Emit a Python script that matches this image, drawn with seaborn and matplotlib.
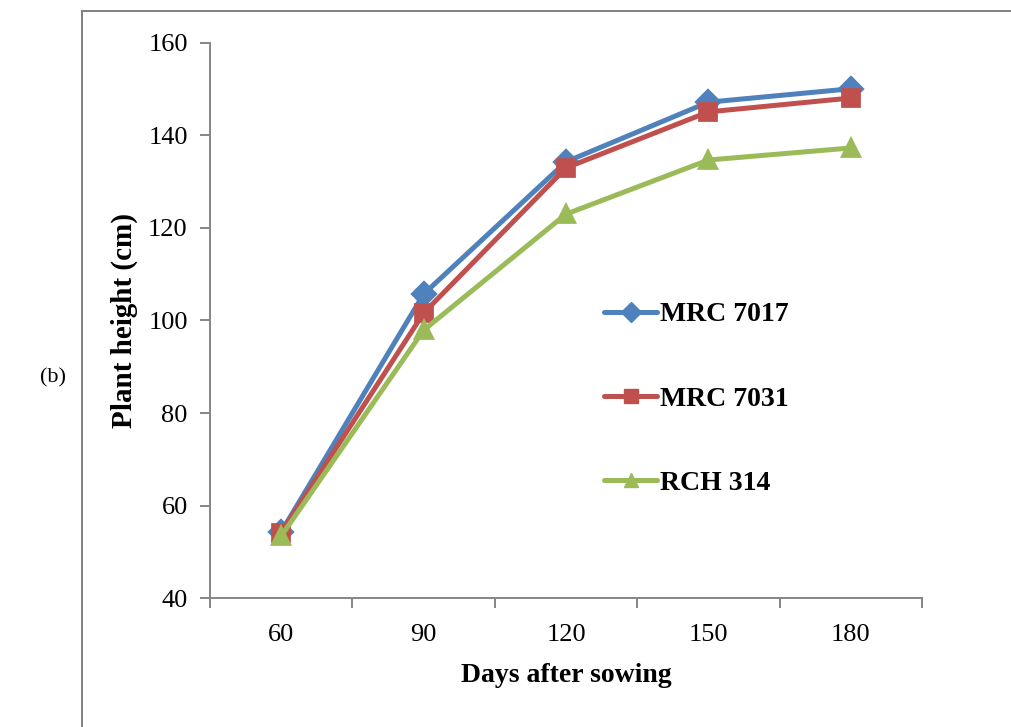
import pandas as pd
import numpy as np
import matplotlib
matplotlib.use('Agg')
import matplotlib.pyplot as plt
import seaborn as sns
from matplotlib.patches import Rectangle
from matplotlib.lines import Line2D

# values
days = [60, 90, 120, 150, 180]
mrc_7017 = [54.3, 105.7, 134.3, 147.2, 150.1]
mrc_7031 = [54.1, 101.6, 133.0, 145.1, 148.1]
rch_314 = [53.4, 97.9, 123.0, 134.7, 137.3]
varieties = ['MRC 7017', 'MRC 7031', 'RCH 314']
colors = ['#4F81BD', '#C0504D', '#9BBB59']
markers = ['D', 's', '^']

df = pd.DataFrame({
    'day': [str(d) for d in days] * 3,
    'height': mrc_7017 + mrc_7031 + rch_314,
    'variety': np.repeat(varieties, len(days)),
})

sns.set_style('white')
plt.rcParams['font.family'] = ['Liberation Serif', 'DejaVu Serif']
plt.rcParams['text.color'] = 'black'
plt.rcParams['xtick.color'] = 'black'
plt.rcParams['ytick.color'] = 'black'
plt.rcParams['axes.labelcolor'] = 'black'

fig = plt.figure(figsize=(10.11, 7.27), dpi=100)
ax = fig.add_axes([0.2077, 0.1774, 0.7043, 0.7635])

sns.pointplot(data=df, x='day', y='height', hue='variety', palette=colors,
              markers=markers, linestyles='-', markersize=11.5, linewidth=3.6,
              order=[str(d) for d in days], hue_order=varieties, ax=ax)

ax.set_ylim(40, 160)
ax.set_yticks(range(40, 161, 20))
ax.set_xlim(-0.5, len(days) - 0.5)

grey = '#868686'
for s in ['top', 'right']:
    ax.spines[s].set_visible(False)
for s in ['left', 'bottom']:
    ax.spines[s].set_color(grey)
    ax.spines[s].set_linewidth(1.4)

ax.tick_params(axis='y', which='major', direction='out', length=7, width=1.4,
               color=grey, labelsize=19, pad=9, left=True, labelcolor='black')
ax.tick_params(axis='x', which='major', length=0, labelsize=19, pad=19,
               labelcolor='black')
ax.set_xticks(np.arange(-0.5, len(days), 1.0), minor=True)
ax.tick_params(axis='x', which='minor', direction='out', length=7, width=1.4,
               color=grey, bottom=True)

ax.set_xlabel('Days after sowing', fontsize=20, fontweight='bold', labelpad=12)
ax.set_ylabel('Plant height (cm)', fontsize=21, fontweight='bold', labelpad=7)

# legend, no frame, wide spacing like the original
handles = [Line2D([0], [0], color=c, marker=m, lw=3.6, markersize=10)
           for c, m in zip(colors, markers)]
ax.legend(handles, varieties, loc='upper left', bbox_to_anchor=(0.573, 0.619),
          bbox_transform=fig.transFigure, frameon=False,
          prop={'weight': 'bold', 'size': 20}, handlelength=1.9,
          handletextpad=0.1, labelspacing=2.12)

fig.text(0.04, 0.48, '(b)', fontsize=16, va='center', ha='left')

# outer frame that runs off the right and bottom edges
fig.patches.append(Rectangle((0.081, -0.1), 1.2, 1.085, transform=fig.transFigure,
                             fill=False, edgecolor='#808080', linewidth=1.4))

fig.savefig('out.png', dpi=100)
